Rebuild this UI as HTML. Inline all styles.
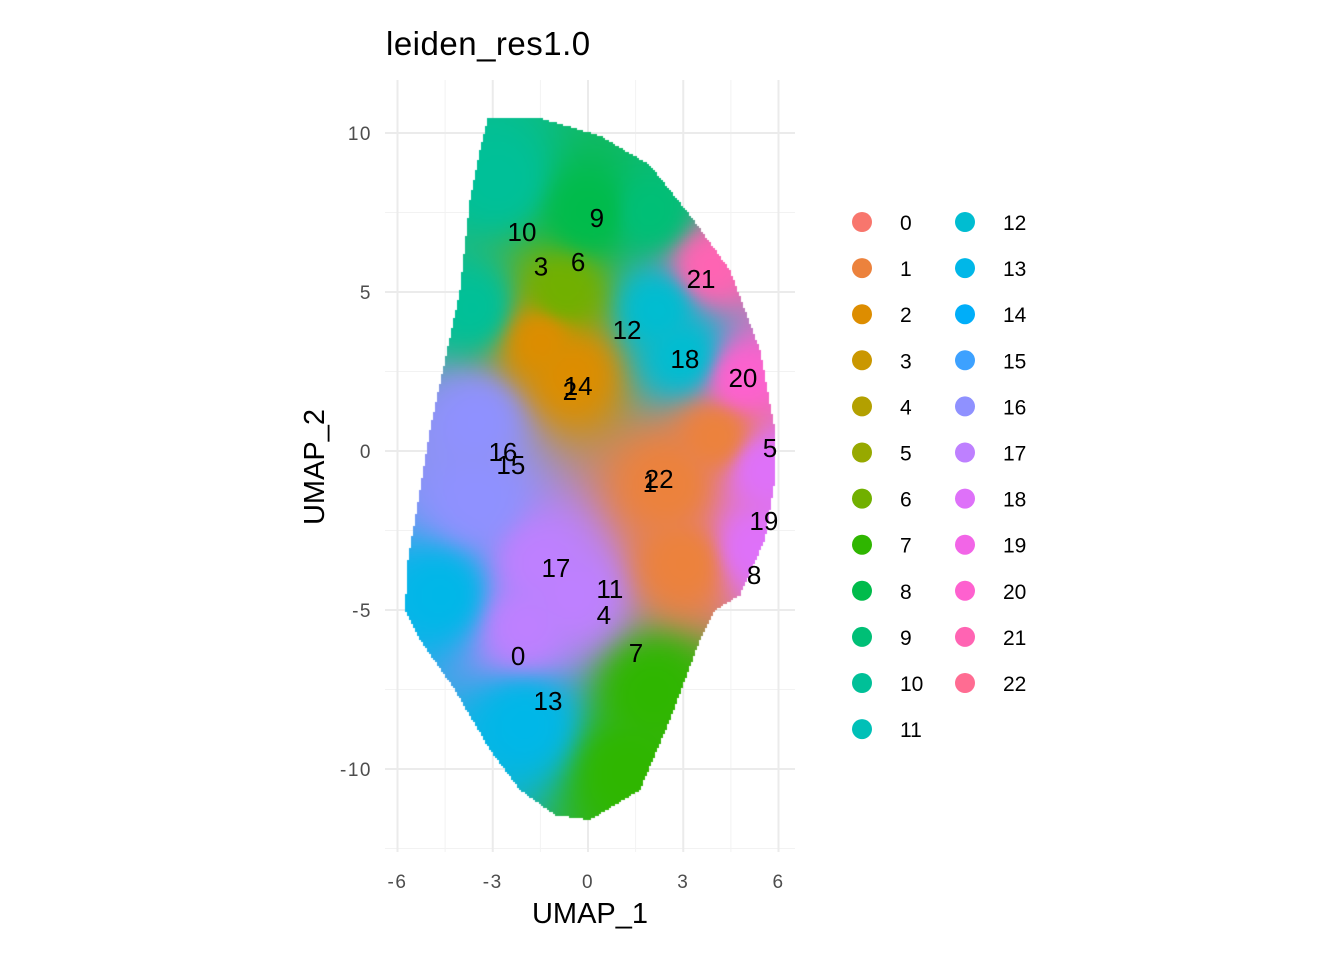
<!DOCTYPE html>
<html><head><meta charset="utf-8"><style>
html,body{margin:0;padding:0;background:#fff;}
#wrap{position:relative;width:1344px;height:960px;overflow:hidden;font-family:"Liberation Sans",sans-serif;}
svg,canvas{position:absolute;left:0;top:0;}
text{font-family:"Liberation Sans",sans-serif;}
</style></head><body>
<div id="wrap">
<svg id="bg" width="1344" height="960"></svg>
<canvas id="cv" width="1344" height="960"></canvas>
<svg id="fg" width="1344" height="960"></svg>
</div>
<script>
const clusters=["0","1","2","3","4","5","6","7","8","9","10","11","12","13","14","15","16","17","18","19","20","21","22"];
const labelX=[-2.20,1.95,-0.57,-1.48,0.50,5.73,-0.31,1.51,5.23,0.28,-2.08,0.69,1.23,-1.26,-0.31,-2.43,-2.68,-1.01,3.05,5.54,4.88,3.56,2.24];
const labelY=[-6.45,-1.01,1.89,5.80,-5.16,0.09,5.94,-6.35,-3.90,7.33,6.89,-4.34,3.81,-7.86,2.05,-0.44,-0.03,-3.68,2.89,-2.20,2.30,5.41,-0.88];
const outlineX=[-3.15,-1.51,0.38,1.95,3.21,4.47,5.42,5.89,5.89,5.57,4.79,4.0,3.53,2.58,1.64,0.06,-1.04,-2.14,-3.09,-4.19,-5.29,-5.76,-5.67,-5.29,-4.98,-4.50,-4.03,-3.72,-3.40];
const outlineY=[10.5,10.47,9.91,8.99,7.42,5.69,3.18,0.66,-0.91,-2.80,-4.53,-5.0,-5.94,-8.46,-10.66,-11.6,-11.45,-10.66,-9.40,-7.52,-5.94,-5.0,-3.43,-1.23,0.66,2.86,5.06,7.89,9.47];
const seedX=[-2.8,-3.6,0,2.0,2.2,3.0,3.8,4.8,5.5,5.2,-0.5,-1.5,2.5,3.0,4.0,-3.5,-3.5,-1.5,-0.5,-2.0,-2.0,-4.6,2.0,1.2,-0.8];
const seedY=[8.5,4.5,7.5,7.5,4.5,3.0,5.8,2.3,-0.5,-3.0,2.5,3.5,-1.0,-3.5,0.5,1.0,-1.5,-3.5,-4.5,-5.5,-8.5,-4.5,-7.5,-10,5.0];
const seedC=[10,10,8,9,12,12,21,20,18,18,2,2,1,1,1,16,16,17,17,17,13,13,7,7,6];
const xTicks=[-6,-3,0,3,6], yTicks=[10,5,0,-5,-10];
const xMinor=[-4.5,-1.5,1.5,4.5], yMinor=[7.5,2.5,-2.5,-7.5,-12.5];
const sx=v=>588+v*31.75, sy=v=>451-v*31.8;
const NS="http://www.w3.org/2000/svg";
function hcl(h){const L=65,C=100,r=h*Math.PI/180;const u=C*Math.cos(r),v=C*Math.sin(r);
const Xn=95.047,Yn=100,Zn=108.883,d=Xn+15*Yn+3*Zn,un=4*Xn/d,vn=9*Yn/d;
const Y=Yn*Math.pow((L+16)/116,3);const up=u/(13*L)+un,vp=v/(13*L)+vn;
const X=Y*9*up/(4*vp),Z=Y*(12-3*up-20*vp)/(4*vp);
const x=X/100,y=Y/100,z=Z/100;
let rgb=[3.2406*x-1.5372*y-0.4986*z,-0.9689*x+1.8758*y+0.0415*z,0.0557*x-0.2040*y+1.0570*z];
return rgb.map(c=>{c=c<=0.0031308?12.92*c:1.055*Math.pow(c,1/2.4)-0.055;return Math.max(0,Math.min(255,Math.round(c*255)));});}
const cols=clusters.map((c,i)=>hcl(15+i*360/23));
const css=c=>`rgb(${c[0]},${c[1]},${c[2]})`;
function mk(p,tag,a,name,txt){const e=document.createElementNS(NS,tag);for(const k in a)e.setAttribute(k,a[k]);


if(txt!==undefined)e.textContent=txt;p.appendChild(e);return e;}
const bg=document.getElementById('bg'),fg=document.getElementById('fg');
xMinor.forEach(v=>mk(bg,'line',{x1:sx(v),x2:sx(v),y1:80,y2:852,stroke:'#f2f2f2','stroke-width':1},'x-minor-grid'));
yMinor.forEach(v=>mk(bg,'line',{x1:385,x2:795,y1:sy(v),y2:sy(v),stroke:'#f2f2f2','stroke-width':1},'y-minor-grid'));
xTicks.forEach(v=>mk(bg,'line',{x1:sx(v),x2:sx(v),y1:80,y2:852,stroke:'#ebebeb','stroke-width':2},'x-major-grid'));
yTicks.forEach(v=>mk(bg,'line',{x1:385,x2:795,y1:sy(v),y2:sy(v),stroke:'#ebebeb','stroke-width':2},'y-major-grid'));
const cv=document.getElementById('cv'),ctx=cv.getContext('2d');
function inside(px,py){let c=false;for(let i=0,j=outlineX.length-1;i<outlineX.length;j=i++){
const xi=sx(outlineX[i]),yi=sy(outlineY[i]),xj=sx(outlineX[j]),yj=sy(outlineY[j]);
if(((yi>py)!=(yj>py))&&(px<(xj-xi)*(py-yi)/(yj-yi)+xi))c=!c;}return c;}
const img=ctx.createImageData(1344,960);const S=2;
const spx=seedX.map(sx),spy=seedY.map(sy);
for(let y=90;y<840;y+=S)for(let x=395;x<790;x+=S){if(!inside(x+1,y+1))continue;
let r=0,g=0,b=0,w=0;for(let k=0;k<spx.length;k++){const d=(x-spx[k])**2+(y-spy[k])**2+200;const ww=1/(d*d);const c=cols[seedC[k]];r+=c[0]*ww;g+=c[1]*ww;b+=c[2]*ww;w+=ww;}
for(let dy=0;dy<S;dy++)for(let dx=0;dx<S;dx++){const o=((y+dy)*1344+x+dx)*4;img.data[o]=r/w;img.data[o+1]=g/w;img.data[o+2]=b/w;img.data[o+3]=255;}}
ctx.putImageData(img,0,0);
clusters.forEach((c,i)=>mk(fg,'text',{x:sx(labelX[i]),y:sy(labelY[i])+9,'text-anchor':'middle','font-size':26,fill:'#000'},'cluster-label-'+c,c));
xTicks.forEach(v=>mk(fg,'text',{x:sx(v),y:888,'text-anchor':'middle','font-size':19,'letter-spacing':1.5,fill:'#4d4d4d'},'x-tick-label',String(v)));
yTicks.forEach(v=>mk(fg,'text',{x:372,y:sy(v)+7,'text-anchor':'end','font-size':19,'letter-spacing':1.5,fill:'#4d4d4d'},'y-tick-label',String(v)));
mk(fg,'text',{x:590,y:923,'text-anchor':'middle','font-size':29,fill:'#000'},'x-axis-title','UMAP_1');
mk(fg,'text',{x:0,y:0,'text-anchor':'middle','font-size':29,fill:'#000',transform:'translate(324,467) rotate(-90)'},'y-axis-title','UMAP_2');
mk(fg,'text',{x:386,y:55,'font-size':33,'letter-spacing':0.5,fill:'#000'},'chart-title','leiden_res1.0');
clusters.forEach((c,i)=>{const col=i<12?0:1,row=i<12?i:i-12;const cx=862+col*103,cy=222+row*46.1;
mk(fg,'circle',{cx:cx,cy:cy,r:10,fill:css(cols[i])},'legend-key-'+c);
mk(fg,'text',{x:cx+38,y:cy+8,'font-size':21,fill:'#000'},'legend-label-'+c,c);});
</script>
</body></html>
